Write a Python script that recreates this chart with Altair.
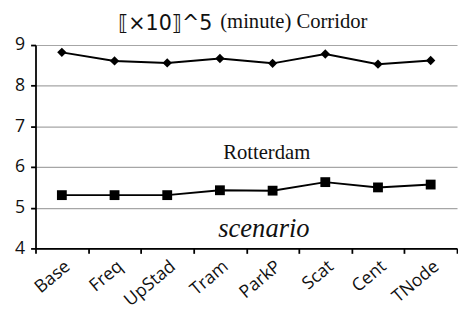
import altair as alt
import pandas as pd

scenarios = ["Base", "Freq", "UpStad", "Tram", "ParkP", "Scat", "Cent", "TNode"]
corridor = [8.82, 8.61, 8.56, 8.67, 8.55, 8.78, 8.53, 8.62]
rotterdam = [5.31, 5.31, 5.31, 5.43, 5.42, 5.63, 5.50, 5.57]
y_ticks = [4, 5, 6, 7, 8, 9]

df = pd.DataFrame({
    "scenario": scenarios * 2,
    "value": corridor + rotterdam,
    "series": ["Corridor"] * len(scenarios) + ["Rotterdam"] * len(scenarios),
})

x_enc = alt.X(
    "scenario:N", sort=scenarios, title=None,
    scale=alt.Scale(type="band", paddingInner=0, paddingOuter=0),
    axis=alt.Axis(
        tickBand="extent", labelAngle=-40, labelFont="Open Sans", labelFontSize=18,
        labelColor="#111", domainColor="#000", domainWidth=1.8, tickColor="#000",
        tickWidth=1.8, tickSize=5, labelPadding=4, grid=False,
    ),
)
y_enc = alt.Y(
    "value:Q", title=None,
    scale=alt.Scale(domain=[4, 9], nice=False, zero=False),
    axis=alt.Axis(
        values=y_ticks, labelFont="Open Sans", labelFontSize=18, labelColor="#111",
        domainColor="#000", domainWidth=1.8, tickColor="#000", tickWidth=1.8,
        tickSize=5, labelPadding=6, grid=True, gridColor="#a6a6a6", gridWidth=1.2,
    ),
)

base = alt.Chart(df)
lines = base.mark_line(color="#000", strokeWidth=2).encode(
    x=x_enc, y=y_enc, detail="series:N"
)
diamonds = base.transform_filter(alt.datum.series == "Corridor").mark_point(
    shape="diamond", filled=True, color="#000", size=90, opacity=1
).encode(x=x_enc, y=y_enc)
squares = base.transform_filter(alt.datum.series == "Rotterdam").mark_point(
    shape="square", filled=True, color="#000", size=100, opacity=1
).encode(x=x_enc, y=y_enc)

def label(text, x, y, font, size, style="normal", align="left"):
    return alt.Chart(pd.DataFrame({"t": [text]})).mark_text(
        font=font, fontSize=size, fontStyle=style, align=align,
        baseline="alphabetic", color="#111",
    ).encode(text="t:N", x=alt.value(x), y=alt.value(y))

title_a = label("⟦×10⟧^5", 84, -15.5, "DejaVu Sans", 21)
title_b = label("(minute) Corridor", 188, -17, "Liberation Serif", 21)
rot = label("Rotterdam", 191, 115.5, "Liberation Serif", 21)
scen = label("scenario", 186, 195.5, "Liberation Serif", 27, style="italic")

chart = alt.layer(lines, diamonds, squares, title_a, title_b, rot, scen).properties(
    width=429, height=207,
    autosize=alt.AutoSizeParams(type="none"),
    padding={"left": 28, "top": 35, "right": 1, "bottom": 62},
).configure_view(stroke=None)

chart.save("out.html", embed_options={"renderer": "svg", "actions": False})
